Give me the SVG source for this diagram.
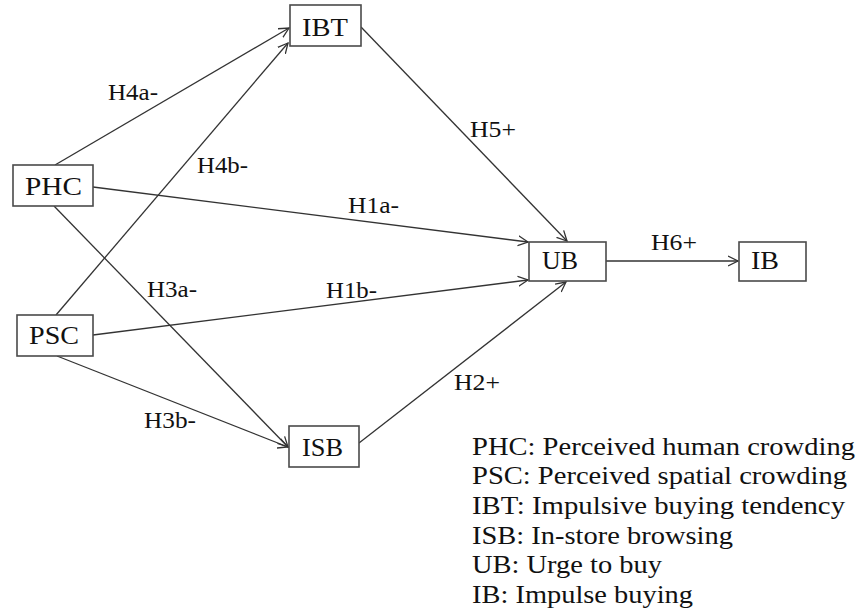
<svg xmlns="http://www.w3.org/2000/svg" width="862" height="613" viewBox="0 0 862 613">
<style>
.box{fill:#fff;stroke:#4a4a4a;stroke-width:1.6}
.nt{font-family:"Liberation Serif","Times New Roman",serif;font-size:26px;fill:#111}
.lb{font-family:"Liberation Serif","Times New Roman",serif;font-size:23px;fill:#111}
.lg{font-family:"Liberation Serif","Times New Roman",serif;font-size:25px;fill:#111}
.cn{stroke:#333;stroke-width:1.3;fill:none;marker-end:url(#ah)}
</style>
<defs>
<marker id="ah" markerUnits="userSpaceOnUse" markerWidth="12" markerHeight="12" refX="10" refY="5" orient="auto" viewBox="0 0 12 10">
<path d="M0,0 L10,5 L0,10" fill="none" stroke="#333" stroke-width="1.3"/>
</marker>
</defs>
<rect width="862" height="613" fill="#fff"/>
<g id="connectors">
<line class="cn" x1="55" y1="165" x2="289" y2="28"/>
<line class="cn" x1="56" y1="315" x2="288" y2="43"/>
<line class="cn" x1="93" y1="187" x2="528" y2="242"/>
<line class="cn" x1="93" y1="335" x2="528" y2="280"/>
<line class="cn" x1="54" y1="206" x2="288" y2="447"/>
<line class="cn" x1="57" y1="356" x2="288" y2="447"/>
<line class="cn" x1="359" y1="443" x2="566" y2="282"/>
<line class="cn" x1="361" y1="27" x2="567" y2="241"/>
<line class="cn" x1="606" y1="261" x2="738" y2="261"/>
<text class="lb" x="108" y="100" textLength="50" lengthAdjust="spacingAndGlyphs">H4a-</text>
<text class="lb" x="197" y="173" textLength="51" lengthAdjust="spacingAndGlyphs">H4b-</text>
<text class="lb" x="348" y="213" textLength="51" lengthAdjust="spacingAndGlyphs">H1a-</text>
<text class="lb" x="326" y="298" textLength="51" lengthAdjust="spacingAndGlyphs">H1b-</text>
<text class="lb" x="147" y="297" textLength="50" lengthAdjust="spacingAndGlyphs">H3a-</text>
<text class="lb" x="144" y="428" textLength="52" lengthAdjust="spacingAndGlyphs">H3b-</text>
<text class="lb" x="470" y="137" textLength="46" lengthAdjust="spacingAndGlyphs">H5+</text>
<text class="lb" x="651" y="250" textLength="46" lengthAdjust="spacingAndGlyphs">H6+</text>
<text class="lb" x="454" y="390" textLength="46" lengthAdjust="spacingAndGlyphs">H2+</text>
</g>
<g id="IBT"><rect class="box" x="290" y="5" width="71" height="41"/><text class="nt" x="302" y="36" textLength="46" lengthAdjust="spacingAndGlyphs">IBT</text></g>
<g id="PHC"><rect class="box" x="13" y="165" width="80" height="41"/><text class="nt" x="25" y="195" textLength="57" lengthAdjust="spacingAndGlyphs">PHC</text></g>
<g id="PSC"><rect class="box" x="17" y="315" width="76" height="41"/><text class="nt" x="29" y="344" textLength="50" lengthAdjust="spacingAndGlyphs">PSC</text></g>
<g id="ISB"><rect class="box" x="289" y="426" width="70" height="41"/><text class="nt" x="302" y="456" textLength="41" lengthAdjust="spacingAndGlyphs">ISB</text></g>
<g id="UB"><rect class="box" x="529" y="242" width="77" height="39"/><text class="nt" x="542" y="269" textLength="36" lengthAdjust="spacingAndGlyphs">UB</text></g>
<g id="IB"><rect class="box" x="739" y="242" width="67" height="39"/><text class="nt" x="751" y="269" textLength="28" lengthAdjust="spacingAndGlyphs">IB</text></g>
<g id="legend">
<text class="lg" x="472" y="455" textLength="383" lengthAdjust="spacingAndGlyphs">PHC: Perceived human crowding</text>
<text class="lg" x="472" y="484" textLength="375" lengthAdjust="spacingAndGlyphs">PSC: Perceived spatial crowding</text>
<text class="lg" x="472" y="514" textLength="373" lengthAdjust="spacingAndGlyphs">IBT: Impulsive buying tendency</text>
<text class="lg" x="472" y="544" textLength="261" lengthAdjust="spacingAndGlyphs">ISB: In-store browsing</text>
<text class="lg" x="472" y="573" textLength="190" lengthAdjust="spacingAndGlyphs">UB: Urge to buy</text>
<text class="lg" x="472" y="603" textLength="221" lengthAdjust="spacingAndGlyphs">IB: Impulse buying</text>
</g>
</svg>
